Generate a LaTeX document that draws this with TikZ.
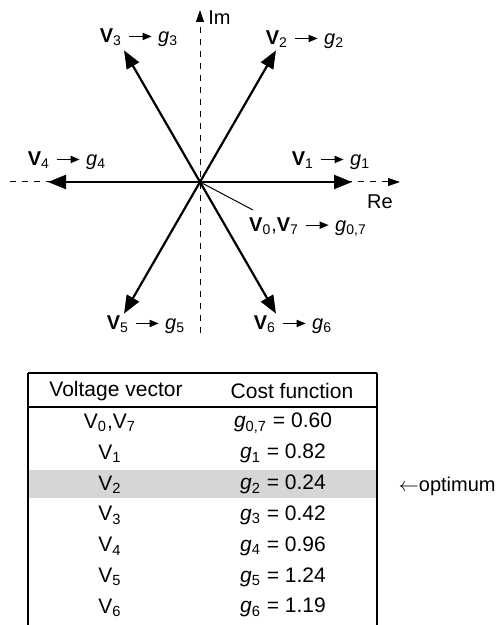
\documentclass[tikz,border=0pt]{standalone}
\usepackage{fontspec}
\setmainfont{Liberation Sans}
\usepackage{xcolor}
\definecolor{cShade}{HTML}{D6D6D6}
\usepackage{tikz}
\usetikzlibrary{arrows.meta, calc}
\newcommand{\garr}{\tikz[baseline=-0.6ex]\draw[-{Triangle[length=4.5pt,width=3.6pt]},
  line width=0.6pt, solid] (0,0) -- (11.5pt,0);}
\newcommand{\vg}[2]{#1\hspace{3pt}\garr\hspace{3pt}\textit{g}\textsubscript{#2}}
\newcommand{\bV}[1]{\textbf{V}\textsubscript{#1}}
\tikzset{
  vec/.style  = {-{Triangle[length=9pt,width=7pt]}, line width=1.1pt},
  axis/.style = {-{Triangle[length=6pt,width=4pt]}, dashed, line width=0.5pt},
  lead/.style = {line width=0.5pt},
  lbl/.style  = {inner sep=0pt, font=\fontsize{10}{12}\selectfont},
  cell/.style = {inner sep=0pt, font=\fontsize{10.5}{12.5}\selectfont},
  rule/.style = {line width=0.6pt},
}

\begin{document}
\begin{tikzpicture}[x=0.5pt, y=-0.5pt]
  \useasboundingbox (0,0) rectangle (497,625);

  \coordinate (O)   at (200,182);
  \coordinate (reL) at (10,182);
  \coordinate (reR) at (400,182);
  \coordinate (imB) at (200,333);
  \coordinate (imT) at (200,10);
  \coordinate (lead) at (253,210);

  \draw[axis] (reL) -- (reR);
  \draw[axis] (imB) -- (imT);

  \foreach \k in {1,...,6}
    \coordinate (v\k) at ($(O)+({-(\k-1)*60}:152)$);
  \foreach \k in {1,...,6}
    \draw[vec] (O) -- (v\k);
  \draw[lead] (O) -- (lead);

  \node[lbl, anchor=west] (im) at (208,18)  {Im};
  \node[lbl]              (re) at (380,202) {Re};
  \node[lbl] (l1) at (331,161) {\vg{\bV{1}}{1}};
  \node[lbl] (l2) at (305,40)  {\vg{\bV{2}}{2}};
  \node[lbl] (l3) at (139,38)  {\vg{\bV{3}}{3}};
  \node[lbl] (l4) at (67,161)  {\vg{\bV{4}}{4}};
  \node[lbl] (l5) at (146,325) {\vg{\bV{5}}{5}};
  \node[lbl] (l6) at (293,325) {\vg{\bV{6}}{6}};
  \node[lbl] (l0) at (308,227) {\vg{\bV{0},\bV{7}}{0,7}};

  % table
  \fill[cShade] (28,470) rectangle (377,498);
  \draw[rule] (28,373) -- (377,373);
  \draw[rule] (28,407) -- (377,407);
  \draw[rule] (28,373) -- (28,625);
  \draw[rule] (377,373) -- (377,625);

  \node[cell] (hV) at (116,391) {Voltage vector};
  \node[cell] (hC) at (292,391) {Cost function};

  \foreach \v/\g [count=\i from 0] in
    {{V\textsubscript{0},V\textsubscript{7}}/{\textit{g}\textsubscript{0,7} = 0.60},
     V\textsubscript{1}/{\textit{g}\textsubscript{1} = 0.82},
     V\textsubscript{2}/{\textit{g}\textsubscript{2} = 0.24},
     V\textsubscript{3}/{\textit{g}\textsubscript{3} = 0.42},
     V\textsubscript{4}/{\textit{g}\textsubscript{4} = 0.96},
     V\textsubscript{5}/{\textit{g}\textsubscript{5} = 1.24},
     V\textsubscript{6}/{\textit{g}\textsubscript{6} = 1.19}}
  {
    \node[cell] (rv\i) at (110,{423+\i*30.8}) {\v};
    \node[cell] (rg\i) at (283,{423+\i*30.8}) {\g};
  }

  \node[lbl, anchor=east] (opt) at (496,486) {$\leftarrow$optimum};

\end{tikzpicture}
\end{document}
